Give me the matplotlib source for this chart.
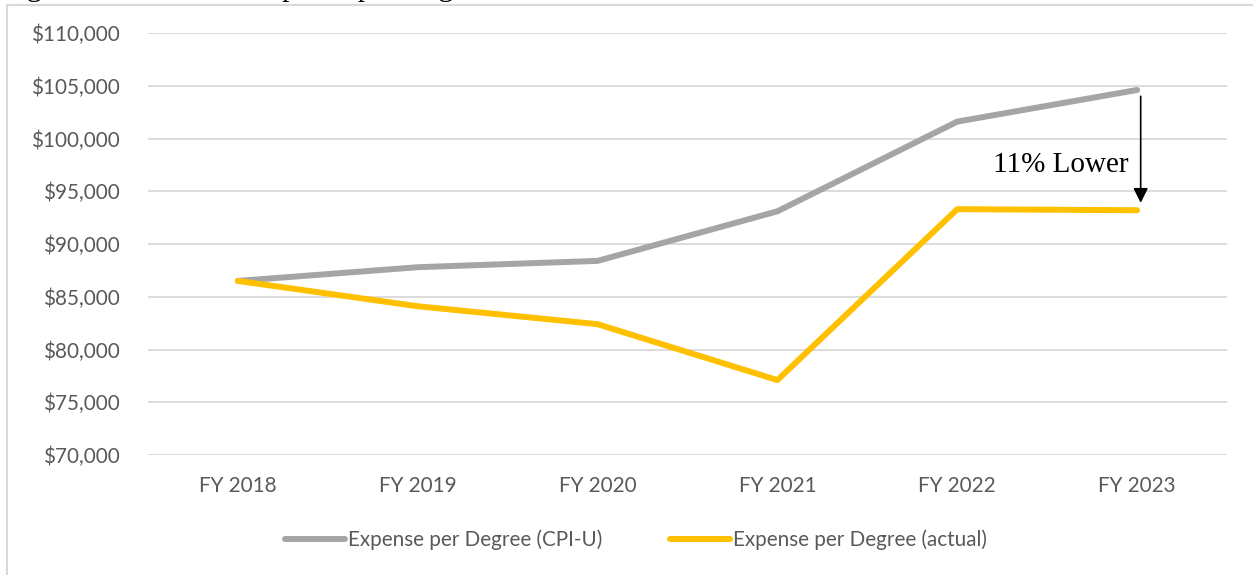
import numpy as np
import matplotlib
matplotlib.use("Agg")
from matplotlib import pyplot as plt
from matplotlib.patches import Rectangle
from matplotlib.ticker import FuncFormatter

## data
years = ["FY 2018", "FY 2019", "FY 2020", "FY 2021", "FY 2022", "FY 2023"]
cpi_u = [86500, 87800, 88400, 93100, 101600, 104600]    # Expense per Degree (CPI-U)
actual = [86500, 84100, 82400, 77100, 93300, 93200]     # Expense per Degree (actual)
y_ticks = np.arange(70000, 110001, 5000)

label_font = "Lato"
grey_txt = "#595959"
lab_size = 14.9

fig = plt.figure(figsize=(12.53, 5.75), dpi=100)
W, H = 1253.0, 575.0

# light frame of the chart box (runs off the right and bottom edges)
fig.patches.append(Rectangle((7 / W, -0.2), 1.2, 1.2 - 5 / H, transform=fig.transFigure,
                             fill=False, edgecolor="#d9d9d9", lw=1.5))

# caption above the box, only its descenders show
fig.text(2.5 / W, 1 + 4.3 / H, "Figure 4: Growth in Expense per Degree",
         family="Liberation Serif", fontsize=21.6, va="baseline", ha="left")

ax = fig.add_axes([148 / W, 1 - 455 / H, (1227 - 148) / W, (455 - 33) / H])
x = np.arange(len(years))

ax.plot(x, cpi_u, color="#A5A5A5", lw=4.3, solid_capstyle="round", solid_joinstyle="round",
        label="Expense per Degree (CPI-U)", zorder=3)
ax.plot(x, actual, color="#FFC000", lw=4.3, solid_capstyle="round", solid_joinstyle="round",
        label="Expense per Degree (actual)", zorder=3)

ax.set_xlim(-0.5, len(years) - 0.5)
ax.set_ylim(70000, 110000)
ax.set_yticks(y_ticks)
ax.yaxis.set_major_formatter(FuncFormatter(lambda v, p: "${:,.0f}".format(v)))
ax.set_xticks(x)
ax.set_xticklabels(years)
ax.grid(axis="y", color="#d9d9d9", lw=1.3)
ax.set_axisbelow(True)
for s in ax.spines.values():
    s.set_visible(False)
ax.tick_params(length=0, labelsize=lab_size, labelcolor=grey_txt, pad=20)
ax.tick_params(axis="x", pad=15)
for t in ax.get_xticklabels() + ax.get_yticklabels():
    t.set_family(label_font)

# 11% lower note with arrow
last = len(years) - 1
ax.annotate("", xy=(last + 0.02, 93900), xytext=(last + 0.02, 104000),
            arrowprops=dict(arrowstyle="-|>", color="black", lw=1.2,
                            mutation_scale=22, shrinkA=0, shrinkB=0))
ax.text(last - 0.05, 97450, "11% Lower", family="Liberation Serif", fontsize=21,
        ha="right", va="center")

leg = fig.legend(loc="center", bbox_to_anchor=(636 / W, 1 - 540 / H), ncol=2, frameon=False,
                 prop={"family": label_font, "size": lab_size}, handlelength=2.9,
                 handletextpad=0.15, columnspacing=3.3)
for t in leg.get_texts():
    t.set_color(grey_txt)

fig.savefig("out.png", dpi=100)
